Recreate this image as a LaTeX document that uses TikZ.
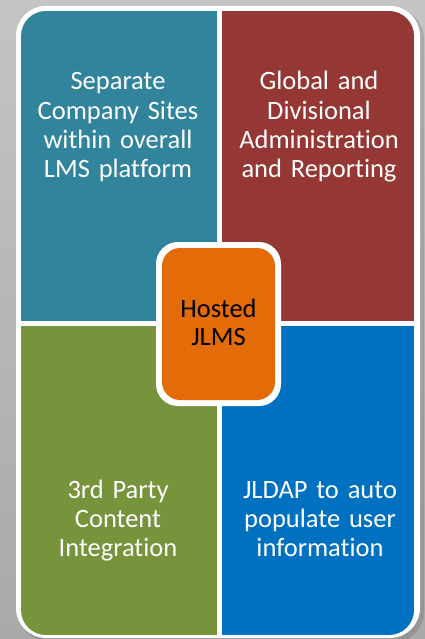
\documentclass[tikz,border=0pt]{standalone}
\usepackage{fontspec}
\setmainfont[Ligatures=NoCommon]{Carlito}
\definecolor{qteal}{HTML}{31849B}
\definecolor{qred}{HTML}{953735}
\definecolor{qgreen}{HTML}{77933C}
\definecolor{qblue}{HTML}{0070C0}
\definecolor{qorange}{HTML}{E36C09}
\definecolor{bgtop}{HTML}{C4C4C4}
\definecolor{bgbot}{HTML}{A9A9A9}
\tikzset{
  qtext/.style={text=white, font=\fontsize{26.5}{29.3}\selectfont, align=center, text width=190pt, inner sep=0pt, anchor=base},
  ctext/.style={text=black, font=\fontsize{26.5}{28.5}\selectfont, align=center, text width=110pt, inner sep=0pt, anchor=base}
}
\begin{document}
\begin{tikzpicture}[x=1pt,y=-1pt]
\useasboundingbox (0,0) rectangle (425,639);
\shade[top color=bgtop, bottom color=bgbot] (0,0) rectangle (425,639);
% shadow
\fill[black, opacity=0.12, rounded corners=30pt] (19,9) rectangle (424,642);
% white frame
\fill[white, rounded corners=30pt] (16,6) rectangle (420,638);
% quadrants
\begin{scope}
\clip[rounded corners=25pt] (21,11) rectangle (414,635);
\fill[qteal] (21,11) rectangle (217,321);
\fill[qred] (222,11) rectangle (414,321);
\fill[qgreen] (21,326) rectangle (217,635);
\fill[qblue] (222,326) rectangle (414,635);
\end{scope}
% center box
\fill[white, rounded corners=22pt] (156,242) rectangle (281,406);
\node[fill=qorange, rounded corners=18pt, minimum width=113pt, minimum height=152pt, inner sep=0pt] (hub) at (218.5,324) {};
% texts
\node[qtext] (tl) at (118,90) {Separate\\Company Sites\\within overall\\LMS platform};
\node[qtext] (tr) at (319,90) {Global and\\Divisional\\Administration\\and Reporting};
\node[qtext] (bl) at (118,498) {3rd Party\\Content\\Integration};
\node[qtext] (br) at (320,498) {JLDAP to auto\\populate user\\information};
\node[ctext] (hubtext) at (218.5,317) {Hosted\\JLMS};
\end{tikzpicture}
\end{document}
